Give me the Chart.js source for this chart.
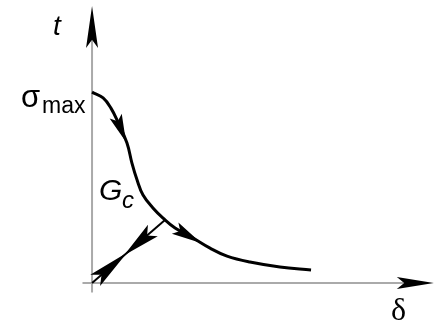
<!DOCTYPE html>
<html>
<head>
<meta charset="utf-8">
<script src="https://cdn.jsdelivr.net/npm/chart.js@4.4.1/dist/chart.umd.min.js"></script>
<style>
  html, body { margin: 0; padding: 0; background: #fff; }
  #wrap { width: 434px; height: 322px; position: relative; }
</style>
</head>
<body>
<div id="wrap"><canvas id="grafico"></canvas></div>
<script>
// traction-separation law, traction normalised so that sigma_max = 1
const deltaCurve = [0, 0.058, 0.099, 0.136, 0.183, 0.209, 0.236, 0.267, 0.319, 0.372, 0.435, 0.529, 0.618, 0.707, 0.827, 0.984, 1.147];
const tractionCurve = [1.0, 0.969, 0.916, 0.843, 0.733, 0.628, 0.539, 0.461, 0.393, 0.340, 0.288, 0.236, 0.183, 0.141, 0.110, 0.084, 0.068];

// elastic loading / unloading path from the origin up to the curve
const deltaLoad = [0, 0.382];
const tractionLoad = [0, 0.330];

// axis extents (with arrowheads at the far ends)
const axisDelta = [-0.05, 1.79];
const axisTraction = [-0.05, 1.45];

// arrowheads: [tail, tip, length, half width]
const curveArrows = [
    [[0.126, 0.869], [0.178, 0.738], 28, 6.5],
    [[0.435, 0.288], [0.571, 0.209], 30, 6.5]
];
const loadArrows = [
    [[0.0, 0.0], [0.183, 0.158], 42, 7.5],
    [[0.382, 0.330], [0.168, 0.145], 38, 7.5]
];

const rangeX = [-0.482, 1.791];
const rangeY = [-0.204, 1.482];

function toPts(xs, ys) {
    return xs.map((x, i) => ({ x: x, y: ys[i] }));
}

function desenharSeta(ctx, x0, y0, x1, y1, comp, meia) {
    const ang = Math.atan2(y1 - y0, x1 - x0);
    ctx.save();
    ctx.translate(x1, y1);
    ctx.rotate(ang);
    ctx.beginPath();
    ctx.moveTo(0, 0);
    ctx.lineTo(-comp, -meia);
    ctx.lineTo(-comp * 0.8, 0);
    ctx.lineTo(-comp, meia);
    ctx.closePath();
    ctx.fillStyle = '#000';
    ctx.fill();
    ctx.restore();
}

function desenharSetas(chart, lista) {
    const sx = chart.scales.x, sy = chart.scales.y;
    lista.forEach(a => {
        desenharSeta(chart.ctx, sx.getPixelForValue(a[0][0]), sy.getPixelForValue(a[0][1]),
            sx.getPixelForValue(a[1][0]), sy.getPixelForValue(a[1][1]), a[2], a[3]);
    });
}

const eixosPlugin = {
    id: 'eixos',
    beforeDatasetsDraw(chart) {
        const ctx = chart.ctx;
        const sx = chart.scales.x, sy = chart.scales.y;
        const ox = sx.getPixelForValue(0), oy = sy.getPixelForValue(0);
        ctx.save();
        ctx.strokeStyle = '#aaaaaa';
        ctx.lineWidth = 2;
        ctx.beginPath();
        ctx.moveTo(ox, sy.getPixelForValue(axisTraction[0]));
        ctx.lineTo(ox, sy.getPixelForValue(axisTraction[1]) + 30);
        ctx.moveTo(sx.getPixelForValue(axisDelta[0]), oy);
        ctx.lineTo(sx.getPixelForValue(axisDelta[1]) - 30, oy);
        ctx.stroke();
        ctx.restore();
        desenharSeta(ctx, ox, oy, ox, sy.getPixelForValue(axisTraction[1]), 42, 6);
        desenharSeta(ctx, ox, oy, sx.getPixelForValue(axisDelta[1]), oy, 37, 6);
    },
    afterDatasetsDraw(chart) {
        desenharSetas(chart, curveArrows);
        desenharSetas(chart, loadArrows);

        const ctx = chart.ctx;
        const sx = chart.scales.x, sy = chart.scales.y;
        const ox = sx.getPixelForValue(0), oy = sy.getPixelForValue(0);
        const topY = sy.getPixelForValue(tractionCurve[0]);
        ctx.save();
        ctx.fillStyle = '#000';
        ctx.textBaseline = 'alphabetic';
        ctx.textAlign = 'left';
        // t label
        ctx.font = 'italic 28px "Liberation Sans", Arial, sans-serif';
        ctx.fillText('t', ox - 39, 35);
        // sigma_max label
        ctx.font = '31px "Liberation Sans", Arial, sans-serif';
        ctx.fillText('σ', ox - 71, topY + 15);
        ctx.font = '23px "Liberation Sans", Arial, sans-serif';
        ctx.fillText('max', ox - 50, topY + 21);
        // G_c label
        ctx.font = 'italic 30px "Liberation Sans", Arial, sans-serif';
        ctx.fillText('G', ox + 7, 200);
        ctx.font = 'italic 24px "Liberation Sans", Arial, sans-serif';
        ctx.fillText('c', ox + 30, 208);
        // delta label
        ctx.font = '32px "Liberation Serif", "Times New Roman", serif';
        ctx.fillText('δ', 391, oy + 37);
        ctx.restore();
    }
};

new Chart(document.getElementById('grafico'), {
    type: 'scatter',
    data: {
        datasets: [
            {
                data: toPts(deltaCurve, tractionCurve),
                showLine: true,
                borderColor: '#000',
                borderWidth: 3,
                pointRadius: 0,
                tension: 0.4
            },
            {
                data: toPts(deltaLoad, tractionLoad),
                showLine: true,
                borderColor: '#000',
                borderWidth: 2,
                pointRadius: 0
            }
        ]
    },
    options: {
        responsive: true,
        maintainAspectRatio: false,
        animation: false,
        layout: { padding: 0 },
        scales: {
            x: { type: 'linear', display: false, min: rangeX[0], max: rangeX[1] },
            y: { type: 'linear', display: false, min: rangeY[0], max: rangeY[1] }
        },
        plugins: {
            legend: { display: false },
            tooltip: { enabled: false }
        }
    },
    plugins: [eixosPlugin]
});
</script>
</body>
</html>
